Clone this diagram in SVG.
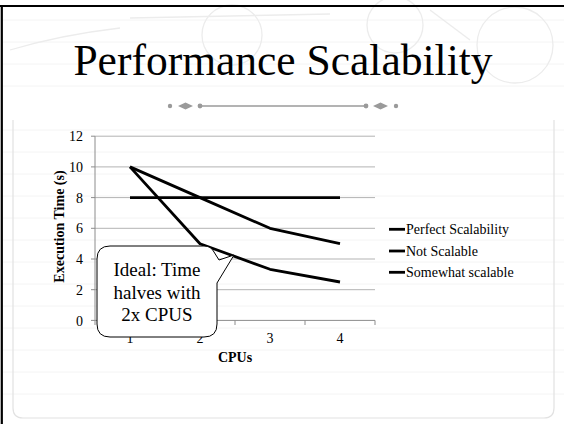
<svg xmlns="http://www.w3.org/2000/svg" width="564" height="424" viewBox="0 0 564 424">
<style>
.serif{font-family:"Liberation Serif","Times New Roman",serif;fill:#000}
.grid{stroke:#b3b3b3;stroke-width:1}
.axis{stroke:#8c8c8c;stroke-width:1}
.series{fill:none;stroke:#000;stroke-width:2.8;stroke-linejoin:round}
.tick{font-size:14px}
.leg{font-size:14px}
.paper{stroke:#f4f4f4;stroke-width:1}
.stamp{fill:none;stroke:#ececec;stroke-width:1.3}
</style>
<rect x="0" y="0" width="564" height="424" fill="#fff"/>
<g id="background">
  <g class="paper">
    <line x1="2" y1="20" x2="564" y2="20"/><line x1="2" y1="42" x2="564" y2="42"/>
    <line x1="2" y1="64" x2="564" y2="64"/><line x1="2" y1="86" x2="564" y2="86"/>
    <line x1="2" y1="130" x2="564" y2="130"/><line x1="2" y1="152" x2="564" y2="152"/>
    <line x1="2" y1="174" x2="564" y2="174"/><line x1="2" y1="196" x2="564" y2="196"/>
    <line x1="2" y1="218" x2="564" y2="218"/><line x1="2" y1="240" x2="564" y2="240"/>
    <line x1="2" y1="262" x2="564" y2="262"/><line x1="2" y1="284" x2="564" y2="284"/>
    <line x1="2" y1="306" x2="564" y2="306"/><line x1="2" y1="328" x2="564" y2="328"/>
    <line x1="2" y1="350" x2="564" y2="350"/><line x1="2" y1="372" x2="564" y2="372"/>
    <line x1="2" y1="394" x2="564" y2="394"/>
  </g>
  <g class="stamp">
    <circle cx="232" cy="35" r="30"/>
    <circle cx="395" cy="25" r="28"/>
    <circle cx="515" cy="45" r="38"/>
    <path d="M10 50 Q 60 35 120 28"/>
    <path d="M130 18 L 330 14"/>
    <path d="M430 10 L 470 40"/>
  </g>
  <path d="M13 120 V 408 Q 13 418 23 418 H 544 Q 554 418 554 408 V 120" fill="none" stroke="#e2e2e2" stroke-width="1.2"/>
  <line x1="0" y1="6" x2="564" y2="6" stroke="#000" stroke-width="2.2"/>
  <line x1="1.8" y1="5" x2="1.8" y2="424" stroke="#000" stroke-width="2.2"/>
</g>
<g id="title">
  <text class="serif" x="283" y="75" font-size="43.5" text-anchor="middle">Performance Scalability</text>
</g>
<g id="divider" fill="#9a9a9a" stroke="none">
  <line x1="200" y1="106" x2="366" y2="106" stroke="#9a9a9a" stroke-width="1.6"/>
  <circle cx="170" cy="106" r="2.2"/><circle cx="200" cy="106" r="2.4"/>
  <circle cx="366" cy="106" r="2.4"/><circle cx="396" cy="106" r="2.2"/>
  <polygon points="178,106 185.5,102.5 193,106 185.5,109.5"/>
  <polygon points="373,106 380.5,102.5 388,106 380.5,109.5"/>
</g>
<g id="chart">
  <g id="gridlines" class="grid">
    <line x1="95" y1="136.2" x2="375" y2="136.2"/>
    <line x1="95" y1="166.9" x2="375" y2="166.9"/>
    <line x1="95" y1="197.6" x2="375" y2="197.6"/>
    <line x1="95" y1="228.3" x2="375" y2="228.3"/>
    <line x1="95" y1="259" x2="375" y2="259"/>
    <line x1="95" y1="289.7" x2="375" y2="289.7"/>
  </g>
  <g id="axes" class="axis">
    <line x1="95" y1="136.2" x2="95" y2="320.4"/>
    <line x1="95" y1="320.4" x2="375" y2="320.4"/>
    <line x1="91" y1="136.2" x2="95" y2="136.2"/>
    <line x1="91" y1="166.9" x2="95" y2="166.9"/>
    <line x1="91" y1="197.6" x2="95" y2="197.6"/>
    <line x1="91" y1="228.3" x2="95" y2="228.3"/>
    <line x1="91" y1="259" x2="95" y2="259"/>
    <line x1="91" y1="289.7" x2="95" y2="289.7"/>
    <line x1="91" y1="320.4" x2="95" y2="320.4"/>
    <line x1="95" y1="320.4" x2="95" y2="325"/>
    <line x1="165" y1="320.4" x2="165" y2="325"/>
    <line x1="235" y1="320.4" x2="235" y2="325"/>
    <line x1="305" y1="320.4" x2="305" y2="325"/>
    <line x1="375" y1="320.4" x2="375" y2="325"/>
  </g>
  <g id="y-labels" class="serif tick" text-anchor="end">
    <text x="83" y="141">12</text>
    <text x="83" y="172">10</text>
    <text x="83" y="202.5">8</text>
    <text x="83" y="233">6</text>
    <text x="83" y="264">4</text>
    <text x="83" y="294.5">2</text>
    <text x="83" y="325.5">0</text>
  </g>
  <g id="x-labels" class="serif tick" text-anchor="middle">
    <text x="130" y="343">1</text>
    <text x="200" y="343">2</text>
    <text x="270" y="343">3</text>
    <text x="340" y="343">4</text>
  </g>
  <text id="x-title" class="serif" x="235" y="362" font-size="14" font-weight="bold" text-anchor="middle">CPUs</text>
  <text id="y-title" class="serif" transform="translate(64,226.5) rotate(-90)" font-size="14" font-weight="bold" text-anchor="middle">Execution Time (s)</text>
  <g id="series">
    <polyline id="perfect" class="series" points="130,166.9 200,243.7 270,269.3 340,282"/>
    <polyline id="not-scalable" class="series" points="130,197.6 200,197.6 270,197.6 340,197.6"/>
    <polyline id="somewhat" class="series" points="130,166.9 200,197.6 270,228.3 340,243.7"/>
  </g>
</g>
<g id="legend">
  <line x1="389" y1="229.3" x2="405" y2="229.3" stroke="#000" stroke-width="2.8"/>
  <line x1="389" y1="251" x2="405" y2="251" stroke="#000" stroke-width="2.8"/>
  <line x1="389" y1="272.3" x2="405" y2="272.3" stroke="#000" stroke-width="2.8"/>
  <text class="serif leg" x="406" y="233.5">Perfect Scalability</text>
  <text class="serif leg" x="406" y="255.5">Not Scalable</text>
  <text class="serif leg" x="406" y="277">Somewhat scalable</text>
</g>
<g id="callout">
  <path d="M110,246 H204 Q211,246 214,252 L219,260 L234,255 L217,283 V324 Q217,337 204,337 H110 Q97,337 97,324 V259 Q97,246 110,246 Z" fill="#fff" stroke="#000" stroke-width="1"/>
  <g class="serif" font-size="19" text-anchor="middle">
    <text x="157" y="276">Ideal: Time</text>
    <text x="157" y="298.5">halves with</text>
    <text x="157" y="321">2x CPUS</text>
  </g>
</g>
</svg>
